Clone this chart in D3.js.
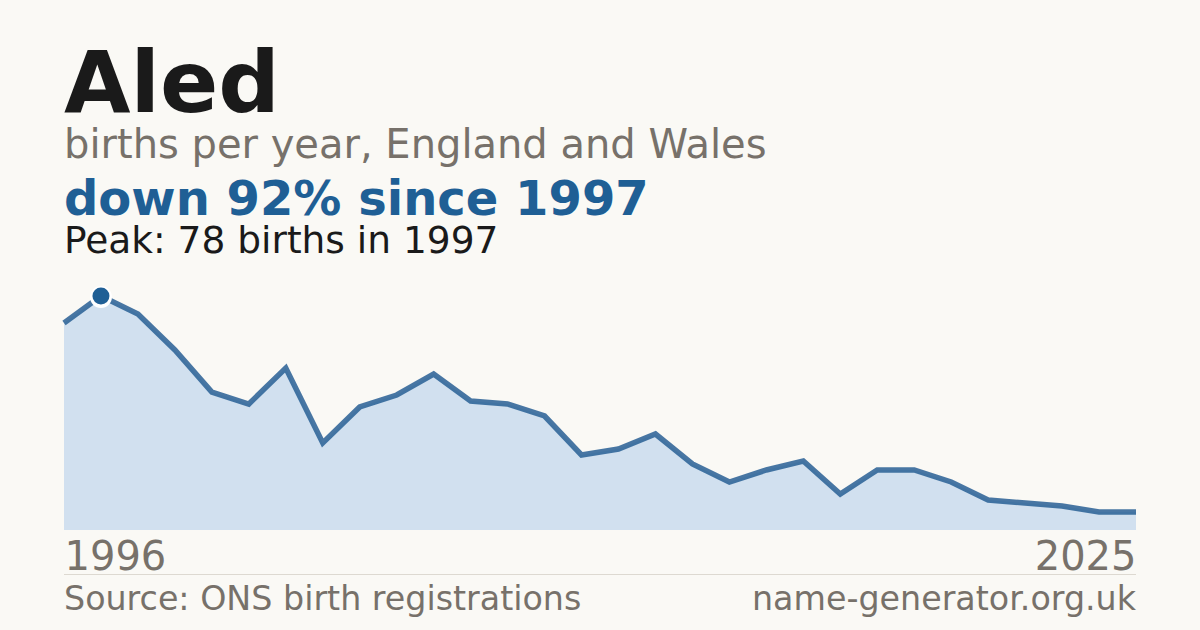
<!DOCTYPE html>
<html><head><meta charset="utf-8">
<script src="https://cdn.jsdelivr.net/npm/d3@7"></script>
<style>
html,body{margin:0;padding:0;background:#faf9f5;}
svg{display:block;font-family:"DejaVu Sans",sans-serif;}
</style></head>
<body>
<svg id="c" width="1200" height="630"></svg>
<script>
const years = d3.range(1996, 2026);
const births = [69,78,72,60,46,42,54,29,41,45,52,43,42,38,25,27,32,22,16,20,23,12,20,20,16,10,9,8,6,6];
const title = "Aled";
const subtitle = "births per year, England and Wales";
const headline = "down 92% since 1997";
const peakNote = "Peak: 78 births in 1997";
const xTickLabels = ["1996","2025"];
const sourceText = "Source: ONS birth registrations";
const siteText = "name-generator.org.uk";

const data = years.map((y,i)=>({year:y, v:births[i]}));
const svg = d3.select("#c");
svg.append("rect").attr("width",1200).attr("height",630).attr("fill","#faf9f5");

const x = d3.scaleLinear().domain([1996,2025]).range([64,1136]);
const y = d3.scaleLinear().domain([0,78]).range([530,296]);

svg.append("path").datum(data)
  .attr("d", d3.area().x(d=>x(d.year)).y0(y(0)).y1(d=>y(d.v)))
  .attr("fill","#d1e0ef");
svg.append("path").datum(data)
  .attr("d", d3.line().x(d=>x(d.year)).y(d=>y(d.v)))
  .attr("fill","none").attr("stroke","#285f94").attr("stroke-width",5.5)
  .attr("stroke-opacity",0.85).attr("stroke-linejoin","miter");

const peak = data.reduce((a,b)=>b.v>a.v?b:a);
svg.append("circle").attr("cx",x(peak.year)).attr("cy",y(peak.v)+1).attr("r",11)
  .attr("fill","#ffffff");
svg.append("circle").attr("cx",x(peak.year)).attr("cy",y(peak.v)).attr("r",8.5)
  .attr("fill","#1f5f95");

svg.append("text").attr("x",64).attr("y",112).text(title)
  .attr("font-size",86).attr("font-weight","bold").attr("fill","#1a1a1a");
svg.append("text").attr("x",64).attr("y",158).text(subtitle)
  .attr("font-size",40).attr("fill","#77716a");
svg.append("text").attr("x",64).attr("y",215).text(headline)
  .attr("font-size",48).attr("font-weight","bold").attr("fill","#1f5f95");
svg.append("text").attr("x",64).attr("y",253).text(peakNote)
  .attr("font-size",37.5).attr("fill","#1a1a1a");

const xa = d3.axisBottom(x).tickValues([1996,2025]).tickFormat((d,i)=>xTickLabels[i]).tickSize(0);
const g = svg.append("g").attr("transform","translate(0,530)").call(xa);
g.select(".domain").remove();
g.selectAll("text").attr("font-size",40).attr("fill","#77716a")
  .attr("font-family","DejaVu Sans").attr("dy",null).attr("y",40)
  .attr("text-anchor",(d,i)=>i===0?"start":"end");

svg.append("line").attr("x1",64).attr("x2",1136).attr("y1",574.5).attr("y2",574.5)
  .attr("stroke","#ddd9d1").attr("stroke-width",1);
svg.append("text").attr("x",64).attr("y",610).text(sourceText)
  .attr("font-size",33.3).attr("fill","#77716a");
svg.append("text").attr("x",1136).attr("y",610).attr("text-anchor","end").text(siteText)
  .attr("font-size",33.3).attr("fill","#77716a");
</script>
</body></html>
